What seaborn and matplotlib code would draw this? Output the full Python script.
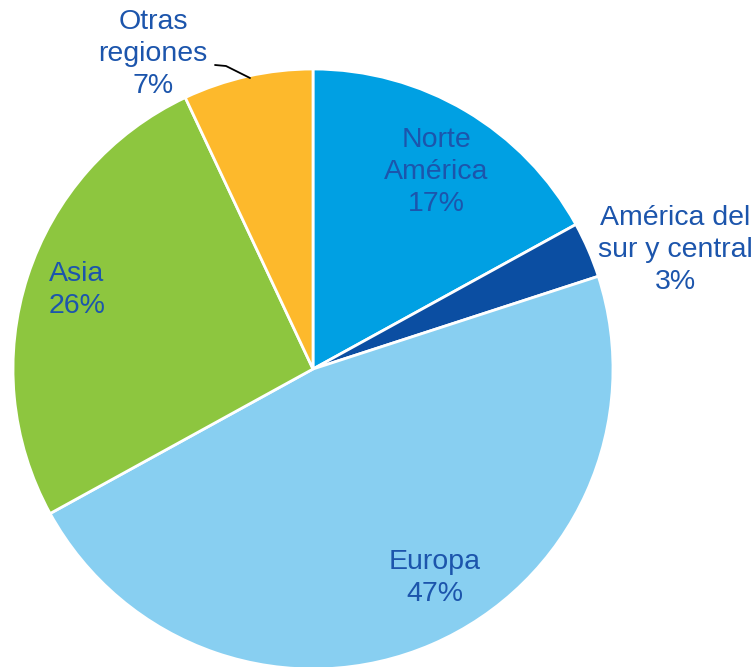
import matplotlib
matplotlib.use("Agg")
import matplotlib.pyplot as plt
import seaborn as sns

# Datos
regiones = ["Norte\nAmérica", "América del\nsur y central", "Europa", "Asia", "Otras\nregiones"]
porcentajes = [17, 3, 47, 26, 7]
colores = ["#00A0E3", "#0B4EA2", "#88CFF1", "#8DC63F", "#FDB92C"]

sns.set_style("white")
plt.rcParams["font.family"] = ["Liberation Sans", "DejaVu Sans"]

W, H = 756, 667
fig = plt.figure(figsize=(W / 100, H / 100), dpi=100)
ax = fig.add_axes([0, 0, 1, 1])

centro = (313, H - 369)
radio = 300
ax.pie(porcentajes, colors=sns.color_palette(colores), startangle=90, counterclock=False,
       center=centro, radius=radio,
       wedgeprops=dict(edgecolor="white", linewidth=2))

# Posiciones de etiquetas (pixeles de imagen)
pos_etiquetas = [(436, 172), (675, 250), (435, 578), (77, 290), (153, 54)]
color_texto = "#1C55AC"
for reg, pct, (x, y) in zip(regiones, porcentajes, pos_etiquetas):
    ax.text(x, H - y, f"{reg}\n{pct}%", ha="center", va="center", fontsize=20.5,
            color=color_texto, linespacing=1.3)

# Línea guía para "Otras regiones"
ax.plot([215, 226, 250], [H - 65, H - 66, H - 78], color="black", lw=1.3)

ax.set_xlim(0, W)
ax.set_ylim(0, H)
ax.set_aspect("equal")
ax.axis("off")

fig.savefig("out.png", dpi=100)
